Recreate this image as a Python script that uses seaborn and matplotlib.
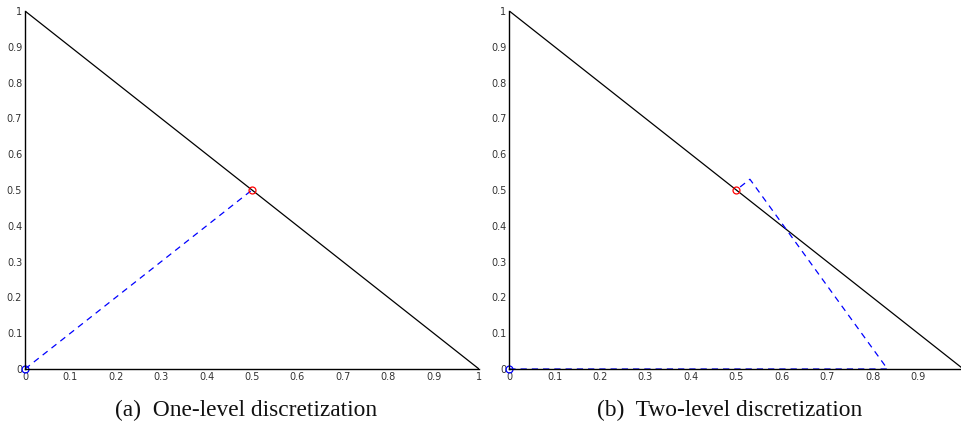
import numpy as np
import pandas as pd
import matplotlib
matplotlib.use("Agg")
import matplotlib.pyplot as plt
import seaborn as sns

# === Data ===
simplex_x = [0, 1]
simplex_y = [1, 0]

# (a) one-level path
path_a_x = [0, 0.5]
path_a_y = [0, 0.5]

# (b) two-level path
path_b_x = [0, 0.833, 0.53, 0.5]
path_b_y = [0, 0, 0.53, 0.5]

start_pt = (0, 0)
target_pt = (0.5, 0.5)

ticks = [0, 0.1, 0.2, 0.3, 0.4, 0.5, 0.6, 0.7, 0.8, 0.9, 1]
tick_labels = ["0", "0.1", "0.2", "0.3", "0.4", "0.5", "0.6", "0.7", "0.8", "0.9", "1"]
captions = ["(a)  One-level discretization", "(b)  Two-level discretization"]

sns.set_style("white")
plt.rcParams["font.family"] = ["DejaVu Sans"]

fig = plt.figure(figsize=(9.61, 4.28), dpi=100)
ax_a = fig.add_axes([25 / 961, 59 / 428, 454 / 961, 358 / 428])
ax_b = fig.add_axes([509.3 / 961, 59 / 428, 454 / 961, 358 / 428])


def draw(ax, px, py, nx):
    sns.lineplot(x=simplex_x, y=simplex_y, color="black", lw=0.9, sort=False, ax=ax)
    sns.lineplot(x=px, y=py, color="blue", lw=0.9, linestyle=(0, (5, 4)),
                 sort=False, ax=ax)
    ax.plot(*start_pt, "o", mfc="none", mec="blue", ms=5, mew=0.9, clip_on=False)
    ax.plot(*target_pt, "o", mfc="none", mec="red", ms=5, mew=0.9)
    ax.set_xlim(0, 1)
    ax.set_ylim(0, 1)
    ax.set_xticks(ticks[:nx])
    ax.set_xticklabels(tick_labels[:nx])
    ax.set_yticks(ticks)
    ax.set_yticklabels(tick_labels)
    for s in ["top", "right"]:
        ax.spines[s].set_visible(False)
    for s in ["left", "bottom"]:
        ax.spines[s].set_color("black")
        ax.spines[s].set_linewidth(1.0)
    ax.tick_params(direction="in", length=3, width=0.8, labelsize=7,
                   labelcolor="#333333", pad=2, color="black")


draw(ax_a, path_a_x, path_a_y, 11)
draw(ax_b, path_b_x, path_b_y, 10)

fig.text(246 / 961, 1 - 410 / 428, captions[0], ha="center", va="center",
         fontsize=16.8, family="Liberation Serif", color="#111111")
fig.text(730 / 961, 1 - 410 / 428, captions[1], ha="center", va="center",
         fontsize=16.8, family="Liberation Serif", color="#111111")

fig.savefig("out.png", dpi=100)
